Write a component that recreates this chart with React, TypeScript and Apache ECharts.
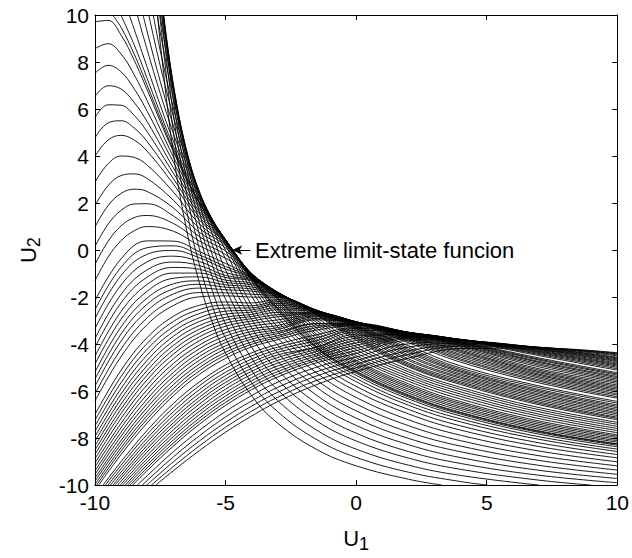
import React, { useEffect, useRef } from "react";
import * as echarts from "echarts";

type Pt = [number, number];

// Axis ticks (U1 horizontal, U2 vertical)
const xTicks = [-10, -5, 0, 5, 10];
const yTicks = [-10, -8, -6, -4, -2, 0, 2, 4, 6, 8, 10];

// Curves that enter through the top edge: [U1, U2] points
const steepCurves: Pt[][] = [
  [[-7.6,10],[-7.5,8.8],[-7,4.11],[-6.5,0.9],[-6,-1.4],[-5.5,-3.1],[-5,-4.39],[-4,-6.2],[-3,-7.37],[-1.5,-8.49],[0,-9.18],[2,-9.75],[3.29,-10]],
  [[-7.52,10],[-7,5.03],[-6.5,1.73],[-6,-0.64],[-5.5,-2.41],[-5,-3.75],[-4,-5.65],[-3,-6.88],[-1.5,-8.07],[0,-8.82],[2,-9.45],[4,-9.85],[5.03,-10]],
  [[-7.45,10],[-7,5.78],[-6.5,2.45],[-6,0.04],[-5.5,-1.76],[-5,-3.15],[-4,-5.12],[-3,-6.41],[-1.5,-7.67],[0,-8.47],[2,-9.15],[4,-9.59],[7,-10]],
  [[-7.4,10],[-7,6.36],[-6.5,3.06],[-6,0.64],[-5.5,-1.18],[-5,-2.6],[-4,-4.61],[-3,-5.96],[-1.5,-7.28],[0,-8.12],[2,-8.85],[4,-9.33],[7,-9.79],[9,-10]],
  [[-7.38,10],[-7,6.76],[-6.5,3.54],[-6,1.15],[-5.5,-0.67],[-5,-2.09],[-4,-4.14],[-3,-5.53],[-1.5,-6.9],[0,-7.79],[2,-8.57],[4,-9.08],[7,-9.58],[10,-9.9]],
  [[-7.37,10],[-7,6.98],[-6.5,3.89],[-6,1.61],[-5.5,-0.23],[-5,-1.64],[-4,-3.71],[-3,-5.12],[-1.5,-6.53],[0,-7.46],[2,-8.28],[4,-8.83],[7,-9.37],[10,-9.72]],
  [[-7.39,10],[-7,7.05],[-6.5,4.13],[-6,1.98],[-5.5,0.2],[-5,-1.25],[-4,-3.31],[-3,-4.74],[-1.5,-6.19],[0,-7.15],[2,-8.01],[4,-8.58],[7,-9.16],[10,-9.54]],
  [[-7.44,10],[-7,6.97],[-6.5,4.25],[-6,2.25],[-5.5,0.65],[-5,-0.85],[-4,-2.95],[-3,-4.38],[-1.5,-5.85],[0,-6.84],[2,-7.74],[4,-8.34],[7,-8.95],[10,-9.36]],
  [[-7.51,10],[-7,6.76],[-6.5,4.27],[-6,2.4],[-5.5,0.98],[-5,-0.39],[-4,-2.63],[-3,-4.05],[-1.5,-5.54],[0,-6.55],[2,-7.47],[4,-8.11],[7,-8.75],[10,-9.18]],
  [[-7.62,10],[-7.5,9.24],[-7,6.45],[-6.5,4.19],[-6,2.47],[-5.5,1.14],[-5,-0.02],[-4,-2.35],[-3,-3.75],[-1.5,-5.24],[0,-6.27],[2,-7.22],[4,-7.88],[7,-8.55],[10,-9.01]],
  [[-7.77,10],[-7.5,8.48],[-7,6.05],[-6.5,4.03],[-6,2.47],[-5.5,1.25],[-5,0.21],[-4,-1.97],[-3,-3.48],[-1.5,-4.96],[0,-6.0],[2,-6.97],[4,-7.66],[7,-8.36],[10,-8.84]],
  [[-7.94,10],[-7.5,7.83],[-7,5.69],[-6.5,3.86],[-6,2.43],[-5.5,1.29],[-5,0.31],[-4,-1.71],[-3,-3.28],[-1.5,-4.75],[0,-5.8],[2,-6.78],[4,-7.48],[7,-8.2],[10,-8.7]],
  [[-8.16,10],[-8,9.28],[-7.5,7.17],[-7,5.29],[-6.5,3.64],[-6,2.34],[-5.5,1.29],[-5,0.38],[-4,-1.5],[-3,-3.04],[-1.5,-4.56],[0,-5.6],[2,-6.6],[4,-7.31],[7,-8.05],[10,-8.57]],
  [[-8.38,10],[-8,8.51],[-7.5,6.66],[-7,4.97],[-6.5,3.46],[-6,2.26],[-5.5,1.28],[-5,0.42],[-4,-1.34],[-3,-2.86],[-1.5,-4.42],[0,-5.46],[2,-6.47],[4,-7.18],[7,-7.94],[10,-8.47]],
  [[-8.69,10],[-8.5,9.4],[-8,7.77],[-7.5,6.16],[-7,4.64],[-6.5,3.27],[-6,2.16],[-5.5,1.25],[-5,0.43],[-4,-1.25],[-3,-2.68],[-1.5,-4.29],[0,-5.33],[2,-6.33],[4,-7.06],[7,-7.83],[10,-8.37]],
  [[-9.01,10],[-8.5,8.73],[-8,7.29],[-7.5,5.82],[-7,4.42],[-6.5,3.13],[-6,2.06],[-5,0.44],[-4,-1.21],[-3,-2.57],[-1.5,-4.2],[0,-5.24],[2,-6.25],[4,-6.98],[7,-7.76],[10,-8.3]],
  [[-9.33,10],[-9,9.47],[-8.5,8.34],[-8,7.0],[-7.5,5.62],[-7,4.28],[-6,2.01],[-5,0.44],[-4,-1.18],[-3,-2.51],[-1.5,-4.15],[0,-5.19],[2,-6.2],[4,-6.93],[7,-7.72],[10,-8.26]],
];

// Upper arcs rising from the left edge: U2 at these U1 positions
const upperArcU1 = [-10, -9.5, -9, -8.5, -8, -7, -6, -5, -4, -3, -1.5, 0, 2, 4, 7, 10];
const upperArcs: number[][] = [
  [9.71, 9.77, 9.14, 8.08, 6.81, 4.19, 1.97, 0.44, -1.17, -2.46, -4.12, -5.15, -6.16, -6.9, -7.69, -8.24],
  [8.57, 8.78, 8.34, 7.46, 6.35, 3.97, 1.87, 0.43, -1.13, -2.37, -4.04, -5.07, -6.08, -6.82, -7.62, -8.17],
  [7.52, 7.86, 7.58, 6.86, 5.9, 3.74, 1.76, 0.42, -1.1, -2.27, -3.97, -4.99, -6.0, -6.74, -7.55, -8.11],
  [6.54, 6.99, 6.85, 6.28, 5.46, 3.5, 1.64, 0.4, -1.07, -2.19, -3.9, -4.91, -5.92, -6.67, -7.48, -8.05],
  [5.63, 6.18, 6.16, 5.73, 5.03, 3.27, 1.53, 0.37, -1.05, -2.11, -3.8, -4.83, -5.84, -6.59, -7.41, -7.98],
  [4.78, 5.41, 5.5, 5.19, 4.61, 3.04, 1.4, 0.34, -1.03, -2.07, -3.68, -4.76, -5.77, -6.52, -7.34, -7.92],
  [3.99, 4.68, 4.88, 4.68, 4.2, 2.81, 1.28, 0.31, -1.02, -2.03, -3.59, -4.69, -5.69, -6.45, -7.27, -7.86],
  [2.89, 3.67, 4.0, 3.94, 3.61, 2.47, 1.11, 0.25, -1.0, -1.97, -3.46, -4.58, -5.58, -6.34, -7.17, -7.77],
  [1.89, 2.74, 3.17, 3.24, 3.04, 2.12, 0.93, 0.19, -1.0, -1.92, -3.33, -4.49, -5.48, -6.23, -7.07, -7.68],
  [0.98, 1.89, 2.41, 2.59, 2.49, 1.79, 0.75, 0.09, -1.01, -1.89, -3.2, -4.37, -5.38, -6.13, -6.98, -7.59],
  [0.15, 1.1, 1.69, 1.96, 1.97, 1.45, 0.57, -0.04, -1.02, -1.85, -3.09, -4.24, -5.28, -6.03, -6.88, -7.5],
  [-0.61, 0.37, 1.03, 1.38, 1.47, 1.13, 0.38, -0.19, -1.04, -1.83, -2.99, -4.12, -5.18, -5.93, -6.79, -7.41],
  [-1.31, -0.3, 0.4, 0.82, 1.0, 0.8, 0.18, -0.35, -1.07, -1.81, -2.89, -3.99, -5.09, -5.84, -6.7, -7.33],
];

// Middle arcs rising from the left edge: U2 at these U1 positions
const middleArcU1 = [-10, -9, -8, -7, -6, -5, -4, -3, -1.5, 0, 2, 4, 7, 10];
const middleArcs: number[][] = [
  [-2.16, -0.37, 0.39, 0.38, -0.07, -0.57, -1.12, -1.8, -2.79, -3.84, -4.97, -5.72, -6.58, -7.22],
  [-2.55, -0.73, 0.1, 0.18, -0.21, -0.7, -1.15, -1.8, -2.76, -3.76, -4.92, -5.66, -6.52, -7.16],
  [-2.92, -1.08, -0.18, -0.02, -0.33, -0.81, -1.18, -1.8, -2.73, -3.7, -4.86, -5.6, -6.46, -7.11],
  [-3.34, -1.48, -0.5, -0.26, -0.49, -0.96, -1.22, -1.8, -2.7, -3.63, -4.8, -5.53, -6.39, -7.04],
  [-3.77, -1.88, -0.84, -0.51, -0.66, -1.08, -1.27, -1.81, -2.67, -3.55, -4.7, -5.46, -6.32, -6.97],
  [-4.14, -2.24, -1.15, -0.74, -0.82, -1.17, -1.31, -1.82, -2.65, -3.47, -4.63, -5.4, -6.25, -6.91],
  [-4.52, -2.61, -1.46, -0.98, -0.98, -1.28, -1.41, -1.84, -2.63, -3.41, -4.53, -5.33, -6.18, -6.84],
  [-4.85, -2.94, -1.75, -1.2, -1.14, -1.38, -1.48, -1.86, -2.61, -3.35, -4.46, -5.27, -6.12, -6.78],
  [-5.19, -3.27, -2.04, -1.44, -1.31, -1.48, -1.57, -1.88, -2.59, -3.31, -4.37, -5.2, -6.05, -6.71],
  [-5.49, -3.57, -2.3, -1.65, -1.46, -1.58, -1.66, -1.91, -2.58, -3.28, -4.3, -5.15, -5.99, -6.65],
  [-5.79, -3.87, -2.58, -1.87, -1.62, -1.69, -1.75, -1.93, -2.57, -3.25, -4.23, -5.09, -5.93, -6.59],
  [-6.12, -4.21, -2.88, -2.12, -1.81, -1.82, -1.88, -1.97, -2.57, -3.21, -4.16, -5.02, -5.85, -6.51],
  [-6.42, -4.53, -3.17, -2.36, -1.99, -1.95, -2.0, -2.01, -2.56, -3.18, -4.07, -4.93, -5.78, -6.44],
  [-6.99, -5.11, -3.72, -2.82, -2.35, -2.21, -2.25, -2.11, -2.57, -3.13, -3.94, -4.77, -5.65, -6.3],
  [-7.24, -5.38, -3.97, -3.04, -2.53, -2.34, -2.37, -2.19, -2.58, -3.11, -3.87, -4.69, -5.58, -6.24],
  [-7.48, -5.64, -4.22, -3.26, -2.7, -2.47, -2.46, -2.27, -2.59, -3.09, -3.81, -4.63, -5.52, -6.17],
  [-7.71, -5.89, -4.46, -3.47, -2.88, -2.6, -2.55, -2.35, -2.61, -3.08, -3.77, -4.56, -5.45, -6.11],
  [-7.93, -6.12, -4.69, -3.67, -3.04, -2.73, -2.64, -2.45, -2.62, -3.07, -3.74, -4.49, -5.39, -6.04],
  [-8.13, -6.34, -4.91, -3.87, -3.21, -2.86, -2.74, -2.54, -2.65, -3.06, -3.7, -4.43, -5.33, -5.98],
  [-8.33, -6.55, -5.12, -4.06, -3.37, -2.98, -2.83, -2.65, -2.67, -3.05, -3.67, -4.36, -5.28, -5.92],
  [-8.51, -6.76, -5.32, -4.25, -3.53, -3.11, -2.92, -2.75, -2.7, -3.05, -3.65, -4.31, -5.22, -5.86],
  [-8.69, -6.95, -5.52, -4.43, -3.69, -3.24, -3.02, -2.84, -2.72, -3.05, -3.62, -4.26, -5.17, -5.8],
  [-8.88, -7.16, -5.73, -4.63, -3.86, -3.38, -3.13, -2.97, -2.76, -3.06, -3.59, -4.2, -5.11, -5.74],
  [-9.06, -7.37, -5.94, -4.83, -4.04, -3.52, -3.24, -3.09, -2.8, -3.07, -3.57, -4.14, -5.05, -5.67],
  [-9.23, -7.56, -6.14, -5.02, -4.2, -3.66, -3.35, -3.21, -2.84, -3.08, -3.55, -4.09, -4.97, -5.61],
  [-9.4, -7.75, -6.34, -5.21, -4.37, -3.81, -3.46, -3.3, -2.91, -3.09, -3.53, -4.06, -4.9, -5.55],
  [-9.55, -7.92, -6.52, -5.38, -4.53, -3.94, -3.57, -3.38, -2.97, -3.1, -3.52, -4.02, -4.84, -5.49],
  [-9.7, -8.1, -6.7, -5.56, -4.69, -4.08, -3.69, -3.47, -3.13, -3.12, -3.51, -3.99, -4.78, -5.43],
  [-9.83, -8.25, -6.87, -5.73, -4.85, -4.21, -3.79, -3.55, -3.13, -3.15, -3.5, -3.96, -4.74, -5.38],
  [-9.97, -8.41, -7.04, -5.89, -5.0, -4.35, -3.91, -3.64, -3.22, -3.17, -3.5, -3.94, -4.68, -5.32],
];

// Curves that enter through the bottom edge: [U1, U2] points
const lowerCurves: Pt[][] = [
  [[-9.94,-10],[-9,-8.55],[-8,-7.19],[-7,-6.05],[-6,-5.14],[-5,-4.47],[-4,-4.01],[-3,-3.72],[-1.5,-3.3],[0,-3.2],[2,-3.5],[4,-3.91],[7,-4.64],[10,-5.27]],
  [[-9.86,-10],[-9,-8.7],[-8,-7.35],[-7,-6.2],[-6,-5.29],[-5,-4.61],[-4,-4.12],[-3,-3.81],[-1.5,-3.4],[0,-3.23],[2,-3.5],[4,-3.89],[7,-4.59],[10,-5.22]],
  [[-9.69,-10],[-9,-9.0],[-8,-7.67],[-7,-6.53],[-6,-5.61],[-5,-4.89],[-4,-4.37],[-3,-4.01],[-1.5,-3.6],[0,-3.3],[2,-3.5],[4,-3.85],[7,-4.49],[10,-5.11]],
  [[-9.6,-10],[-9,-9.15],[-8,-7.84],[-7,-6.71],[-6,-5.77],[-5,-5.04],[-4,-4.5],[-3,-4.13],[-1.5,-3.73],[0,-3.34],[2,-3.51],[4,-3.84],[7,-4.44],[10,-5.05]],
  [[-9.5,-10],[-9,-9.3],[-8,-8.01],[-7,-6.88],[-6,-5.94],[-5,-5.2],[-4,-4.64],[-3,-4.24],[-1.5,-3.85],[0,-3.41],[2,-3.53],[4,-3.82],[7,-4.4],[10,-4.99]],
  [[-9.41,-10],[-9,-9.44],[-8,-8.16],[-7,-7.04],[-6,-6.1],[-5,-5.34],[-4,-4.77],[-3,-4.35],[-1.5,-3.97],[0,-3.49],[2,-3.54],[4,-3.81],[7,-4.36],[10,-4.94]],
  [[-9.31,-10],[-9,-9.58],[-8,-8.31],[-7,-7.2],[-6,-6.26],[-5,-5.49],[-4,-4.9],[-3,-4.46],[-1.5,-4.12],[0,-3.58],[2,-3.56],[4,-3.81],[7,-4.33],[10,-4.89]],
  [[-9.23,-10],[-9,-9.7],[-8,-8.45],[-7,-7.35],[-6,-6.4],[-5,-5.63],[-4,-5.03],[-3,-4.57],[-1.5,-4.13],[0,-3.66],[2,-3.59],[4,-3.8],[7,-4.3],[10,-4.85]],
  [[-9.13,-10],[-9,-9.83],[-8,-8.59],[-7,-7.49],[-6,-6.55],[-5,-5.77],[-4,-5.16],[-3,-4.69],[-1.5,-4.22],[0,-3.75],[2,-3.61],[4,-3.8],[7,-4.27],[10,-4.8]],
  [[-9.03,-10],[-8,-8.74],[-7,-7.65],[-6,-6.71],[-5,-5.92],[-4,-5.29],[-3,-4.81],[-1.5,-4.31],[0,-3.85],[2,-3.64],[4,-3.81],[7,-4.24],[10,-4.75]],
  [[-8.94,-10],[-8,-8.88],[-7,-7.8],[-6,-6.86],[-5,-6.07],[-4,-5.43],[-3,-4.93],[-1.5,-4.41],[0,-3.95],[2,-3.68],[4,-3.81],[7,-4.22],[10,-4.71]],
  [[-8.84,-10],[-8,-9.01],[-7,-7.94],[-6,-7.0],[-5,-6.21],[-4,-5.56],[-3,-5.05],[-1.5,-4.5],[0,-4.05],[2,-3.71],[4,-3.82],[7,-4.2],[10,-4.67]],
  [[-8.75,-10],[-8,-9.14],[-7,-8.08],[-6,-7.15],[-5,-6.35],[-4,-5.69],[-3,-5.17],[-1.5,-4.6],[0,-4.16],[2,-3.75],[4,-3.83],[7,-4.18],[10,-4.63]],
  [[-8.65,-10],[-8,-9.26],[-7,-8.21],[-6,-7.28],[-5,-6.48],[-4,-5.82],[-3,-5.28],[-1.5,-4.69],[0,-4.28],[2,-3.79],[4,-3.85],[7,-4.16],[10,-4.59]],
  [[-8.56,-10],[-8,-9.38],[-7,-8.34],[-6,-7.41],[-5,-6.61],[-4,-5.94],[-3,-5.4],[-1.5,-4.79],[0,-4.4],[2,-3.86],[4,-3.87],[7,-4.15],[10,-4.56]],
  [[-8.38,-10],[-8,-9.6],[-7,-8.58],[-6,-7.67],[-5,-6.87],[-4,-6.19],[-3,-5.62],[-1.5,-4.98],[0,-4.55],[2,-3.99],[4,-3.91],[7,-4.14],[10,-4.5]],
  [[-8.19,-10],[-8,-9.8],[-7,-8.8],[-6,-7.9],[-5,-7.1],[-4,-6.42],[-3,-5.84],[-1.5,-5.17],[0,-4.7],[2,-4.13],[4,-3.97],[7,-4.13],[10,-4.46]],
  [[-8.02,-10],[-7,-9.01],[-6,-8.12],[-5,-7.33],[-4,-6.64],[-3,-6.05],[-1.5,-5.35],[0,-4.85],[2,-4.29],[4,-4.03],[7,-4.14],[10,-4.42]],
  [[-7.84,-10],[-7,-9.21],[-6,-8.33],[-5,-7.54],[-4,-6.85],[-3,-6.26],[-1.5,-5.54],[0,-5.01],[2,-4.44],[4,-4.09],[7,-4.15],[10,-4.39]],
  [[-7.67,-10],[-7,-9.39],[-6,-8.53],[-5,-7.75],[-4,-7.06],[-3,-6.45],[-1.5,-5.72],[0,-5.16],[2,-4.6],[4,-4.19],[7,-4.17],[10,-4.37]],
];

// Annotation
const annotationText = "Extreme limit-state funcion";
const arrowTip: Pt = [-4.75, 0];
const arrowTail: Pt = [-4.05, 0];
const labelAnchor: Pt = [-3.87, 0];

const FONT = "'Liberation Sans', Arial, Helvetica, sans-serif";

function zipCurve(xs: number[], ys: number[]): Pt[] {
  return xs.map((x, i) => [x, ys[i]] as Pt);
}

export default function App() {
  const ref = useRef<HTMLDivElement>(null);

  useEffect(() => {
    if (!ref.current) return;
    const chart = echarts.init(ref.current, undefined, { renderer: "svg" });

    const curves: Pt[][] = [
      ...steepCurves,
      ...upperArcs.map((ys) => zipCurve(upperArcU1, ys)),
      ...middleArcs.map((ys) => zipCurve(middleArcU1, ys)),
      ...lowerCurves,
    ];

    const xMin = xTicks[0];
    const xMax = xTicks[xTicks.length - 1];
    const yMin = yTicks[0];
    const yMax = yTicks[yTicks.length - 1];

    const axisLine = { show: true, onZero: false, lineStyle: { color: "#000", width: 1 } };
    const axisTick = { show: true, inside: true, length: 5, lineStyle: { color: "#000", width: 1 } };

    const curveSeries = curves.map((pts) => ({
      type: "line",
      data: pts,
      showSymbol: false,
      symbol: "none",
      smooth: 0.4,
      clip: true,
      silent: true,
      lineStyle: { color: "#000", width: 0.9 },
    }));

    const subRich = {
      a: { fontSize: 22, fontFamily: FONT, color: "#000", lineHeight: 26, verticalAlign: "top" },
      b: { fontSize: 18, fontFamily: FONT, color: "#000", lineHeight: 18, verticalAlign: "bottom", padding: [17, 0, 0, 0] },
    };

    const option = {
      animation: false,
      backgroundColor: "#ffffff",
      grid: { left: 88, top: 15, width: 530, height: 484, containLabel: false },
      xAxis: [
        {
          type: "value",
          min: xMin,
          max: xMax,
          interval: xTicks[1] - xTicks[0],
          position: "bottom",
          axisLine,
          axisTick,
          splitLine: { show: false },
          axisLabel: { color: "#000", fontSize: 21, fontFamily: FONT, margin: 7 },
          name: "{a|U}{b|1}",
          nameLocation: "middle",
          nameGap: 24,
          nameTextStyle: { color: "#000", fontFamily: FONT, rich: subRich },
        },
        {
          type: "value",
          min: xMin,
          max: xMax,
          interval: xTicks[1] - xTicks[0],
          position: "top",
          axisLine,
          axisTick,
          splitLine: { show: false },
          axisLabel: { show: false },
        },
      ],
      yAxis: [
        {
          type: "value",
          min: yMin,
          max: yMax,
          interval: yTicks[1] - yTicks[0],
          position: "left",
          axisLine,
          axisTick,
          splitLine: { show: false },
          axisLabel: { color: "#000", fontSize: 21, fontFamily: FONT, margin: 6 },
          name: "{a|U}{b|2}",
          nameLocation: "middle",
          nameRotate: 90,
          nameGap: 52,
          nameTextStyle: { color: "#000", fontFamily: FONT, rich: subRich },
        },
        {
          type: "value",
          min: yMin,
          max: yMax,
          interval: yTicks[1] - yTicks[0],
          position: "right",
          axisLine,
          axisTick,
          splitLine: { show: false },
          axisLabel: { show: false },
        },
      ],
      series: [
        ...curveSeries,
        {
          type: "line",
          data: [],
          silent: true,
          markLine: {
            silent: true,
            animation: false,
            symbol: ["none", "arrow"],
            symbolSize: [7, 10],
            lineStyle: { color: "#000", width: 1, type: "solid" },
            label: { show: false },
            data: [[{ coord: arrowTail }, { coord: arrowTip }]],
          },
          markPoint: {
            silent: true,
            animation: false,
            symbol: "circle",
            symbolSize: 0,
            label: {
              show: true,
              position: "right",
              distance: 0,
              formatter: annotationText,
              color: "#000",
              fontSize: 22,
              fontFamily: FONT,
            },
            data: [{ coord: labelAnchor }],
          },
        },
      ],
    };

    chart.setOption(option as any);
    return () => chart.dispose();
  }, []);

  return (
    <div
      ref={ref}
      style={{ position: "fixed", left: 0, top: 0, width: 632, height: 558, background: "#fff" }}
    />
  );
}
